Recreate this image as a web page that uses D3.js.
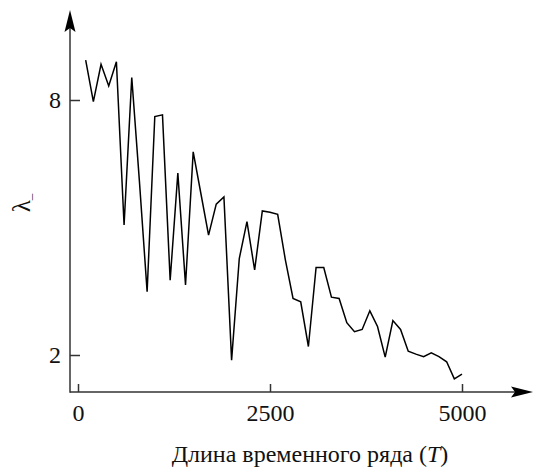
<!DOCTYPE html>
<html>
<head>
<meta charset="utf-8">
<script src="https://cdn.jsdelivr.net/npm/d3@7"></script>
<style>
  html, body { margin: 0; padding: 0; background: #fff; }
</style>
</head>
<body>
<svg id="chart" width="533" height="469" font-family="Liberation Serif"></svg>
<script>
// Data
const seriesT = [100,200,300,400,500,600,700,800,900,1000,
  1100,1200,1300,1400,1500,1600,1700,1800,1900,2000,
  2100,2200,2300,2400,2500,2600,2700,2800,2900,3000,
  3100,3200,3300,3400,3500,3600,3700,3800,3900,4000,
  4100,4200,4300,4400,4500,4600,4700,4800,4900,5000];
const seriesLambda = [8.94,7.96,8.84,8.33,8.90,5.06,8.53,6.08,3.49,7.61,
  7.65,3.76,6.28,3.65,6.78,5.80,4.82,5.55,5.72,1.88,
  4.27,5.14,4.00,5.39,5.36,5.31,4.24,3.33,3.25,2.20,
  4.06,4.06,3.36,3.33,2.76,2.55,2.60,3.04,2.67,1.95,
  2.81,2.60,2.09,2.02,1.96,2.05,1.96,1.84,1.44,1.55];
const xTicks = [0, 2500, 5000];
const yTicks = [2, 8];
const xTitle = "Длина временного ряда (";
const xTitleVar = "T";
const yTitle = "λ";
const yTitleSub = "–";

const FONT = "Liberation Serif";
const svg = d3.select("#chart");
const x = d3.scaleLinear().domain([0, 5000]).range([78, 462]);
const y = d3.scaleLinear().domain([2, 8]).range([355, 100]);
const axisX0 = 70, axisY0 = 392;
const axisColor = "#333";

// X axis
const gx = svg.append("g").attr("transform", `translate(0,${axisY0})`)
  .call(d3.axisBottom(x).tickValues(xTicks).tickSize(-8).tickPadding(12).tickFormat(d3.format("d")));
gx.attr("font-family", FONT).attr("font-size", 24);
gx.select(".domain").remove();
gx.selectAll(".tick line").attr("stroke", axisColor).attr("stroke-width", 1.5);
gx.selectAll(".tick text").attr("fill", "#111").attr("font-size", 24).attr("font-family", FONT);

// Y axis
const gy = svg.append("g").attr("transform", `translate(${axisX0},0)`)
  .call(d3.axisLeft(y).tickValues(yTicks).tickSize(-10).tickPadding(9).tickFormat(d3.format("d")));
gy.attr("font-family", FONT).attr("font-size", 24);
gy.select(".domain").remove();
gy.selectAll(".tick line").attr("stroke", axisColor).attr("stroke-width", 1.5);
gy.selectAll(".tick text").attr("fill", "#111").attr("font-size", 24).attr("font-family", FONT);

// Axis lines
svg.append("line").attr("x1", axisX0).attr("y1", axisY0).attr("x2", 520).attr("y2", axisY0)
  .attr("stroke", axisColor).attr("stroke-width", 1.5);
svg.append("line").attr("x1", axisX0).attr("y1", axisY0 + 0.75).attr("x2", axisX0).attr("y2", 25)
  .attr("stroke", axisColor).attr("stroke-width", 1.5);
// Arrowheads
svg.append("path").attr("d", `M${axisX0},10 L${axisX0 + 5.5},32 L${axisX0},28 L${axisX0 - 5.5},32 Z`).attr("fill", "#000");
svg.append("path").attr("d", `M533,${axisY0} L511,${axisY0 - 5.5} L515,${axisY0} L511,${axisY0 + 5.5} Z`).attr("fill", "#000");

// Line
const line = d3.line().x((d, i) => x(seriesT[i])).y(d => y(d));
svg.append("path").datum(seriesLambda).attr("d", line)
  .attr("fill", "none").attr("stroke", "#000").attr("stroke-width", 1.5).attr("stroke-linejoin", "miter");

// X title
const xt = svg.append("text").attr("x", 310).attr("y", 462).attr("text-anchor", "middle")
  .attr("font-size", 24).attr("fill", "#111").attr("font-family", FONT);
xt.append("tspan").text(xTitle);
xt.append("tspan").attr("font-style", "italic").text(xTitleVar);
xt.append("tspan").text(")");

// Y title
const yt = svg.append("text").attr("transform", "translate(30,203) rotate(-90)")
  .attr("text-anchor", "middle").attr("font-size", 25).attr("fill", "#111").attr("font-family", FONT);
yt.append("tspan").text(yTitle);
yt.append("tspan").attr("font-size", 13).attr("dy", 5).text(yTitleSub);
</script>
</body>
</html>
